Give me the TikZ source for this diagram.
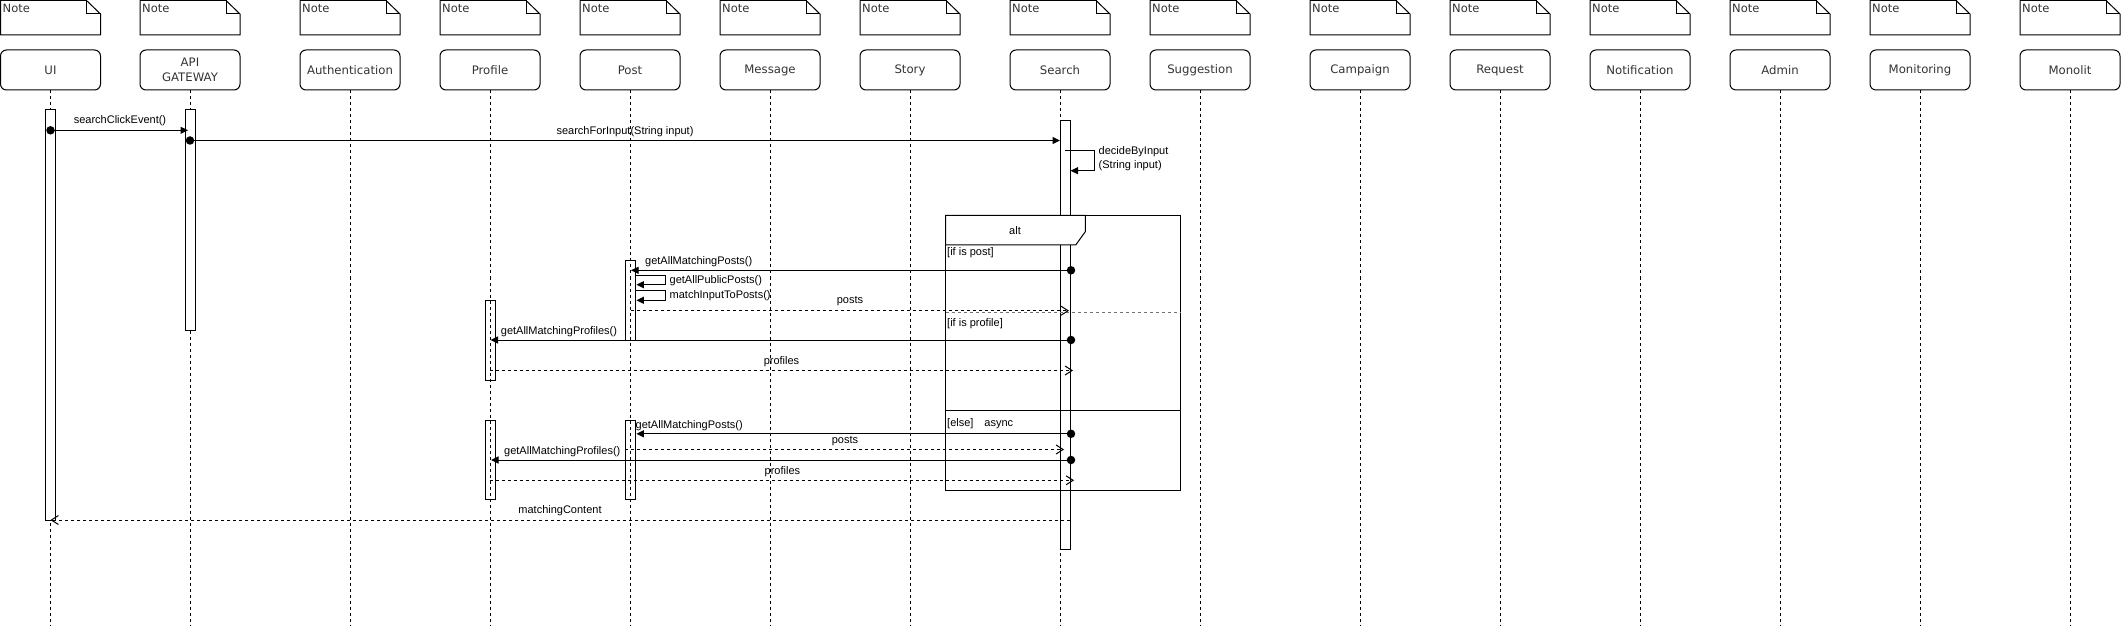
\documentclass[tikz,border=0pt]{standalone}
\usepackage{fontspec}
\setmainfont{Liberation Sans}
\newfontfamily\djv{DejaVu Sans}
\usetikzlibrary{arrows.meta}
\begin{document}
\begin{tikzpicture}[x=1pt,y=-1pt,
  notetxt/.style={inner sep=0pt, anchor=west, text=black!80, font=\djv\fontsize{11.5}{14}\selectfont},
  actor/.style={draw, line width=1pt, rounded corners=6pt, minimum width=100pt, minimum height=40pt, inner sep=0pt, align=center, text=black!80, font=\djv\fontsize{11.7}{15}\selectfont},
  lifeline/.style={line width=1pt, dash pattern=on 3pt off 3pt},
  barw/.style={draw, line width=1pt, fill=white, minimum width=10pt, inner sep=0pt},
  barc/.style={draw, line width=1pt, minimum width=10pt, inner sep=0pt},
  msg/.style={line width=1pt, -{Triangle[length=7.5pt,width=7pt]}},
  ret/.style={line width=1pt, dash pattern=on 3pt off 3pt, -{Straight Barb[length=7pt,width=9pt]}},
  dotn/.style={circle, fill=black, inner sep=0pt, minimum size=8.5pt},
  lbl/.style={inner sep=0pt, font=\fontsize{11}{14}\selectfont},
  lblw/.style={lbl, anchor=west},
  frm/.style={line width=1pt}
]
\useasboundingbox (0,0) rectangle (2121,631);

% notes, actors, lifelines
\foreach \cx/\nm/\lab in {50.5/ui/UI, 190/api/{API\\GATEWAY}, 350/auth/Authentication, 490/prof/Profile, 630/post/Post, 770/mess/Message, 910/story/Story, 1060/srch/Search, 1200/sugg/Suggestion, 1360/camp/Campaign, 1500/req/Request, 1640/notif/Notification, 1780/adm/Admin, 1920/mon/Monitoring, 2070/mono/Monolit}{
  \draw[line width=1pt] (\cx-50,0.5) -- (\cx+36,0.5) -- (\cx+50,14) -- (\cx+50,35) -- (\cx-50,35) -- cycle;
  \draw[line width=1pt] (\cx+36,0.5) -- (\cx+36,14) -- (\cx+50,14);
  \node[notetxt] (\nm-note) at (\cx-48,8) {Note};
  \node[actor] (\nm) at (\cx,70) {\lab};
  \coordinate (\nm-end) at (\cx,626);
  \draw[lifeline] (\nm.south) -- (\nm-end);
}

% activation bars
\node[barw, minimum height=410pt] (uibar) at (50.5,315) {};
\node[barw, minimum height=220pt] (apibar) at (190,220) {};
\node[barw, minimum height=429.3pt] (srchbar) at (1065,335.3) {};
\node[barc, minimum width=10.5pt, minimum height=79.7pt] (postbar1) at (630.3,300.2) {};
\node[barc, minimum height=79.6pt] (profbar1) at (490.5,340.5) {};
\node[barc, minimum height=79.3pt] (profbar2) at (490.5,460.3) {};
\node[barc, minimum width=10.5pt, minimum height=79.3pt] (postbar2) at (630.3,460.3) {};

% alt frame
\coordinate (fa) at (945.7,215.3);
\coordinate (fb) at (1180,490);
\draw[frm] (fa) rectangle (fb);
\draw[frm, fill=white] (945.7,215.3) -- (1085.3,215.3) -- (1085.3,231.7) -- (1075.7,245) -- (945.7,245) -- cycle;
\node[lbl] (alt) at (1015,230.7) {alt};
\coordinate (sep1a) at (945.7,312.7);
\coordinate (sep1b) at (1180,312.7);
\draw[line width=1pt, black!55, dash pattern=on 3pt off 3pt] (sep1a) -- (sep1b);
\coordinate (sep2a) at (945.7,410.7);
\coordinate (sep2b) at (1180,410.7);
\draw[frm] (sep2a) -- (sep2b);
\node[lblw] (g1) at (947,253) {[if is post]};
\node[lblw] (g2) at (947,323.3) {[if is profile]};
\node[lblw] (g3) at (947,424) {[else]\hspace{11pt}async};

% messages
\node[dotn] (d1) at (50.5,130.3) {};
\coordinate (t1) at (188,130.3);
\draw[msg] (d1.center) -- (t1);
\node[lbl] (l1) at (120,121) {searchClickEvent()};

\node[dotn] (d2) at (190,140.5) {};
\coordinate (t2) at (1060,140.5);
\draw[msg] (d2.center) -- (t2);
\node[lbl] (l2) at (625,132) {searchForInput(String input)};

\coordinate (s3) at (1065,150.7);
\coordinate (t3) at (1070.5,170.7);
\draw[msg] (s3) -- (1094.3,150.7) -- (1094.3,170.7) -- (t3);
\node[lblw, align=left] (l3) at (1098.5,159) {decideByInput\\(String input)};

\node[dotn] (d4) at (1071,270.3) {};
\coordinate (t4) at (631,270.3);
\draw[msg] (d4.center) -- (t4);
\node[lblw] (l4) at (645,262) {getAllMatchingPosts()};

\coordinate (s5) at (635.5,275.7);
\coordinate (t5) at (636.4,284.7);
\draw[msg] (s5) -- (665.4,275.7) -- (665.4,284.7) -- (t5);
\node[lblw] (l5) at (669.5,280.5) {getAllPublicPosts()};

\coordinate (s6) at (635.5,290.7);
\coordinate (t6) at (636.4,300.3);
\draw[msg] (s6) -- (665.4,290.7) -- (665.4,300.3) -- (t6);
\node[lblw] (l6) at (669.5,295.5) {matchInputToPosts()};

\coordinate (s7) at (631,310.7);
\coordinate (t7) at (1069,310.7);
\draw[ret] (s7) -- (t7);
\node[lbl] (l7) at (850,301.5) {posts};

\node[dotn] (d8) at (1071,340) {};
\coordinate (t8) at (490.5,340);
\draw[msg] (d8.center) -- (t8);
\node[lblw] (l8) at (500.7,332) {getAllMatchingProfiles()};

\coordinate (s9) at (490,370.5);
\coordinate (t9) at (1073,370.5);
\draw[ret] (s9) -- (t9);
\node[lbl] (l9) at (781.5,361.3) {profiles};

\node[dotn] (d10) at (1071,433.8) {};
\coordinate (t10) at (636.4,433.8);
\draw[msg] (d10.center) -- (t10);
\node[lblw] (l10) at (635.5,425.3) {getAllMatchingPosts()};

\coordinate (s11) at (625,449.5);
\coordinate (t11) at (1064,449.5);
\draw[ret] (s11) -- (t11);
\node[lbl] (l11) at (845,441.3) {posts};

\node[dotn] (d12) at (1071,460) {};
\coordinate (t12) at (491,460);
\draw[msg] (d12.center) -- (t12);
\node[lblw] (l12) at (504,451.7) {getAllMatchingProfiles()};

\coordinate (s13) at (490,480.3);
\coordinate (t13) at (1074,480.3);
\draw[ret] (s13) -- (t13);
\node[lbl] (l13) at (782.4,471.3) {profiles};

\coordinate (s14) at (1069.5,520);
\coordinate (t14) at (50.5,520);
\draw[ret] (s14) -- (t14);
\node[lbl] (l14) at (560,511) {matchingContent};
\end{tikzpicture}
\end{document}
